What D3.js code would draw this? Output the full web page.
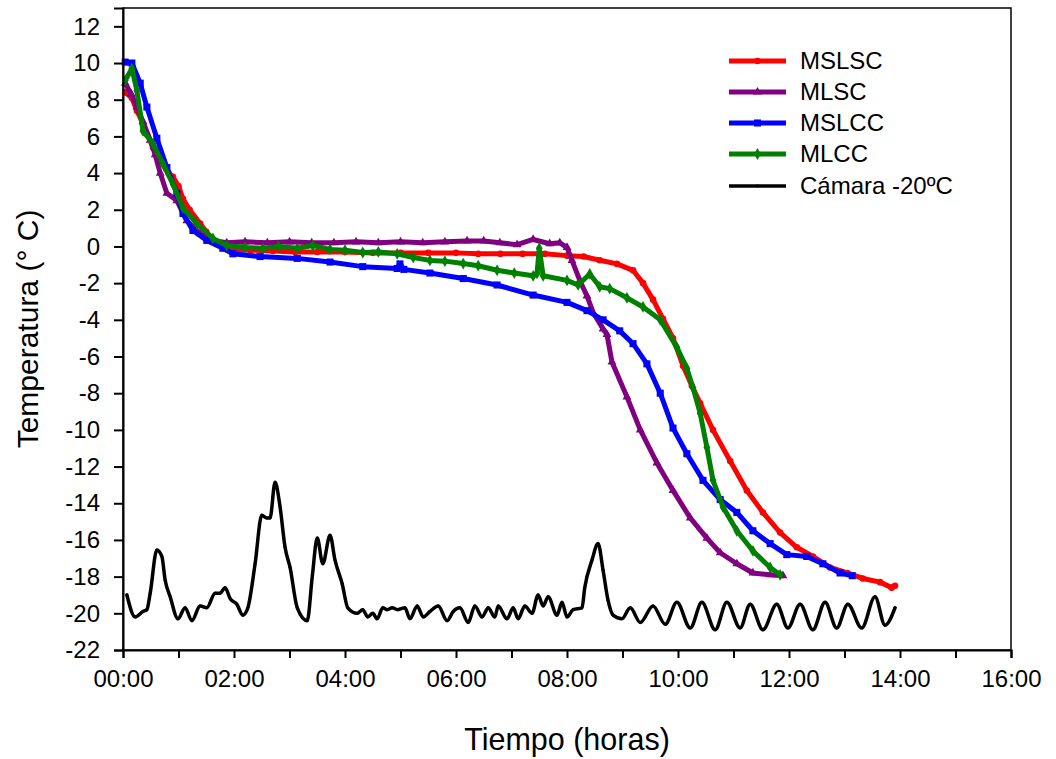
<!DOCTYPE html>
<html><head><meta charset="utf-8">
<script src="https://cdn.jsdelivr.net/npm/d3@7"></script>
<style>body{margin:0;background:#fff} text{font-family:"Liberation Sans",Arial,Helvetica,sans-serif;fill:#000}</style>
</head><body><svg id="c" width="1056" height="759"></svg>
<script>
// ---- data (hours, °C) ----
const xTickHours = d3.range(0, 17, 1);
const xLabelHours = d3.range(0, 17, 2);
const yTicks = d3.range(-22, 13, 2);
const seriesNames = ["MSLSC", "MLSC", "MSLCC", "MLCC", "Cámara -20ºC"];
const xTitle = "Tiempo (horas)";
const yTitle = "Temperatura (° C)";

const mslsc = [[0.04,8.4],[0.16,8.1],[0.25,7.4],[0.36,6.7],[0.54,5.4],[0.7,4.6],[0.82,4.0],[0.9,3.8],[1.0,3.3],[1.08,2.6],[1.2,2.0],[1.39,1.25],[1.5,0.8],[1.62,0.35],[1.8,0.05],[1.98,-0.15],[2.3,-0.2],[2.7,-0.25],[3.1,-0.3],[3.5,-0.3],[4.0,-0.3],[4.5,-0.35],[5.0,-0.35],[5.5,-0.35],[6.0,-0.35],[6.4,-0.4],[6.8,-0.4],[7.2,-0.4],[7.6,-0.4],[8.0,-0.5],[8.3,-0.55],[8.59,-0.75],[8.9,-0.95],[9.19,-1.3],[9.37,-2.0],[9.55,-2.9],[9.73,-3.95],[9.91,-5.0],[10.09,-6.5],[10.25,-7.6],[10.4,-8.55],[10.63,-10.0],[10.94,-11.7],[11.24,-13.3],[11.53,-14.5],[11.84,-15.6],[12.14,-16.4],[12.43,-16.9],[12.74,-17.5],[13.05,-17.8],[13.33,-18.1],[13.64,-18.3],[13.85,-18.6],[13.91,-18.5]];

const mlsc = [[0.04,8.9],[0.15,8.3],[0.25,7.6],[0.36,6.8],[0.49,5.8],[0.58,5.0],[0.67,4.0],[0.79,2.9],[0.97,2.5],[1.15,1.4],[1.39,0.7],[1.62,0.33],[1.87,0.2],[2.2,0.25],[2.6,0.2],[3.0,0.25],[3.4,0.2],[3.8,0.2],[4.2,0.25],[4.6,0.2],[5.0,0.25],[5.4,0.2],[5.8,0.25],[6.2,0.3],[6.5,0.3],[6.79,0.2],[7.1,0.1],[7.39,0.38],[7.69,0.15],[7.87,0.2],[8.0,-0.05],[8.09,-0.76],[8.23,-1.85],[8.36,-2.7],[8.47,-3.6],[8.65,-4.5],[8.72,-4.8],[8.81,-6.3],[9.08,-8.2],[9.32,-10.0],[9.62,-11.8],[9.91,-13.3],[10.22,-14.8],[10.52,-15.9],[10.76,-16.7],[11.06,-17.3],[11.35,-17.8],[11.66,-17.9],[11.89,-17.95]];

const mslcc = [[0.04,10.05],[0.16,10.0],[0.31,8.9],[0.43,7.6],[0.61,5.9],[0.79,4.3],[0.97,2.9],[1.08,1.8],[1.26,0.87],[1.51,0.33],[1.8,-0.1],[1.98,-0.4],[2.47,-0.55],[3.14,-0.65],[3.73,-0.85],[4.32,-1.1],[4.94,-1.2],[4.99,-0.95],[5.06,-1.25],[5.53,-1.45],[6.13,-1.75],[6.74,-2.1],[7.39,-2.65],[8.0,-3.05],[8.36,-3.5],[8.65,-4.0],[8.95,-4.6],[9.19,-5.3],[9.44,-6.4],[9.68,-8.0],[9.91,-9.9],[10.16,-11.3],[10.45,-12.75],[10.76,-13.8],[11.06,-14.5],[11.35,-15.5],[11.66,-16.2],[11.96,-16.8],[12.32,-16.9],[12.61,-17.3],[12.92,-17.8],[13.14,-17.95]];

const mlcc = [[0.04,9.05],[0.16,9.7],[0.25,8.5],[0.36,6.3],[0.54,5.6],[0.72,4.5],[0.9,3.4],[1.08,2.1],[1.33,1.25],[1.62,0.44],[1.87,0.05],[2.2,-0.05],[2.52,-0.1],[2.8,0.0],[3.14,-0.1],[3.42,0.05],[3.73,-0.16],[4.0,-0.2],[4.32,-0.33],[4.6,-0.3],[4.94,-0.4],[5.23,-0.6],[5.53,-0.76],[5.8,-0.8],[6.13,-0.93],[6.4,-1.05],[6.74,-1.3],[7.05,-1.45],[7.39,-1.6],[7.46,-1.47],[7.5,-0.1],[7.57,-1.6],[8.0,-1.85],[8.2,-2.1],[8.41,-1.5],[8.59,-2.2],[8.77,-2.3],[9.08,-2.8],[9.37,-3.3],[9.68,-4.0],[9.98,-5.5],[10.16,-6.65],[10.27,-7.7],[10.4,-9.1],[10.52,-10.95],[10.63,-12.75],[10.81,-14.2],[11.06,-15.5],[11.35,-16.6],[11.66,-17.5],[11.84,-17.9]];

const camara = [[0.07,-19.0],[0.22,-20.2],[0.36,-19.9],[0.43,-19.8],[0.49,-18.9],[0.61,-16.55],[0.7,-16.9],[0.76,-18.2],[0.85,-19.1],[0.99,-20.3],[1.12,-19.7],[1.24,-20.4],[1.39,-19.6],[1.51,-19.7],[1.66,-18.9],[1.75,-18.9],[1.84,-18.6],[1.93,-19.2],[2.05,-19.5],[2.16,-20.1],[2.25,-19.7],[2.38,-17.3],[2.5,-14.65],[2.59,-14.8],[2.65,-14.8],[2.74,-12.85],[2.83,-14.2],[2.92,-16.4],[3.01,-17.5],[3.14,-19.7],[3.32,-20.4],[3.41,-18.0],[3.5,-15.9],[3.6,-17.3],[3.73,-15.75],[3.82,-17.1],[3.95,-18.4],[4.05,-19.7],[4.22,-20.0],[4.32,-19.8],[4.41,-20.2],[4.5,-20.0],[4.58,-20.3],[4.68,-19.7],[4.76,-19.8],[4.85,-19.7],[4.95,-19.8],[5.08,-19.7],[5.17,-20.3],[5.3,-19.6],[5.41,-20.2],[5.53,-19.9],[5.68,-19.6],[5.84,-20.4],[5.95,-19.9],[6.07,-19.7],[6.22,-20.5],[6.34,-19.6],[6.47,-20.2],[6.58,-19.7],[6.7,-20.2],[6.76,-19.6],[6.92,-20.3],[7.03,-19.7],[7.12,-20.3],[7.24,-19.6],[7.37,-20.0],[7.48,-19.0],[7.57,-19.6],[7.66,-19.1],[7.82,-20.1],[7.91,-19.4],[8.0,-20.2],[8.11,-19.8],[8.27,-19.7],[8.32,-18.6],[8.45,-17.1],[8.56,-16.2],[8.65,-17.65],[8.74,-19.3],[8.83,-20.1],[8.99,-20.3],[9.14,-19.7],[9.32,-20.5],[9.55,-19.6],[9.77,-20.6],[9.98,-19.4],[10.22,-20.8],[10.43,-19.4],[10.67,-20.9],[10.88,-19.4],[11.12,-20.8],[11.3,-19.5],[11.53,-20.9],[11.78,-19.5],[11.98,-20.8],[12.2,-19.5],[12.43,-20.9],[12.65,-19.4],[12.86,-20.8],[13.06,-19.5],[13.31,-20.8],[13.55,-19.1],[13.73,-20.65],[13.91,-19.7]];

const seriesData = [mslsc, mlsc, mslcc, mlcc, camara];
const colors = ["#ff0000", "#800080", "#0000ff", "#008000", "#000000"];

// ---- layout ----
const L = 123, R = 1011, T = 8, B = 650;
const svg = d3.select("#c");
const x = d3.scaleLinear().domain([0, 16]).range([L, R]);
const y = d3.scaleLinear().domain([-22, 13]).range([B, T]);

const symbols = [d3.symbolCircle, d3.symbolTriangle, d3.symbolSquare, d3.symbolDiamond, d3.symbolCircle];
const symSizes = [34, 34, 50, 40, 6];
const widths = [5, 5, 5, 5, 3.5];
const curves = [d3.curveLinear, d3.curveLinear, d3.curveLinear, d3.curveLinear, d3.curveMonotoneX];

// frame
svg.append("rect").attr("x", L).attr("y", T).attr("width", R - L).attr("height", B - T)
  .attr("fill", "none").attr("stroke", "#000").attr("stroke-width", 1.5);

// series
const order = [4, 0, 1, 2, 3];
order.forEach(i => {
  const line = d3.line().x(d => x(d[0])).y(d => y(d[1])).curve(curves[i]);
  svg.append("path").datum(seriesData[i]).attr("d", line)
    .attr("fill", "none").attr("stroke", colors[i]).attr("stroke-width", widths[i])
    .attr("stroke-linejoin", "round").attr("stroke-linecap", "round");
  svg.append("g").selectAll("path").data(seriesData[i]).join("path")
    .attr("transform", d => `translate(${x(d[0])},${y(d[1])})`)
    .attr("d", d3.symbol().type(symbols[i]).size(symSizes[i]))
    .attr("fill", colors[i]);
});

// axes
const xAxis = d3.axisBottom(x).tickValues(xTickHours).tickSizeOuter(0).tickSize(8).tickPadding(12)
  .tickFormat(h => (h % 2 === 0) ? String(h).padStart(2, "0") + ":00" : "");
const gx = svg.append("g").attr("transform", `translate(0,${B})`).call(xAxis);
const yAxis = d3.axisLeft(y).tickValues(yTicks).tickSizeOuter(0).tickSize(9).tickPadding(14).tickFormat(d3.format("d"));
const gy = svg.append("g").attr("transform", `translate(${L},0)`).call(yAxis);
[gx, gy].forEach(g => {
  g.select(".domain").attr("stroke", "#000").attr("stroke-width", 2);
  g.selectAll(".tick line").attr("stroke", "#000").attr("stroke-width", 2);
  g.selectAll(".tick text").attr("font-size", 24).attr("font-family", "Liberation Sans, Arial, sans-serif");
});
gy.selectAll(".tick text").text(d => String(d));

// titles
svg.append("text").attr("x", (L + R) / 2).attr("y", 750).attr("text-anchor", "middle")
  .attr("font-size", 30.5).text(xTitle);
svg.append("text").attr("transform", `translate(38,${(T + B) / 2}) rotate(-90)`)
  .attr("text-anchor", "middle").attr("font-size", 30).text(yTitle);

// legend
const legY = [61, 92, 123, 154, 186];
seriesNames.forEach((n, i) => {
  const g = svg.append("g");
  g.append("line").attr("x1", 729).attr("x2", 786).attr("y1", legY[i]).attr("y2", legY[i])
    .attr("stroke", colors[i]).attr("stroke-width", widths[i]);
  g.append("path").attr("transform", `translate(757.5,${legY[i]})`)
    .attr("d", d3.symbol().type(symbols[i]).size(symSizes[i])).attr("fill", colors[i]);
  g.append("text").attr("x", 800).attr("y", legY[i]).attr("dy", "0.35em").attr("font-size", 24).text(n);
});
</script></body></html>
